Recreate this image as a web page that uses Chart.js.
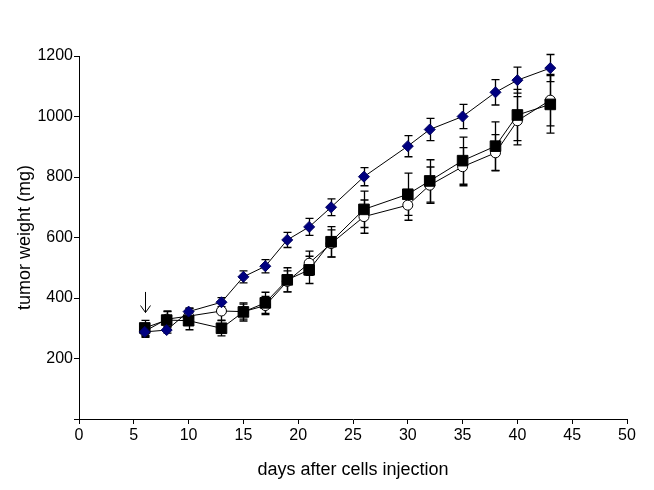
<!DOCTYPE html>
<html>
<head>
<meta charset="utf-8">
<script src="https://cdn.jsdelivr.net/npm/chart.js@4/dist/chart.umd.min.js"></script>
<style>
html,body{margin:0;padding:0;background:#fff;}
#wrap{width:654px;height:490px;}
</style>
</head>
<body>
<div id="wrap"><canvas id="c" width="654" height="490"></canvas></div>
<script>
const days = [6, 8, 10, 13, 15, 17, 19, 21, 23, 26, 30, 32, 35, 38, 40, 43];
const diamondValues = [288, 294, 355, 386, 470, 505, 592, 635, 700, 801, 902, 957, 1000, 1080, 1120, 1160];
const diamondErrors = [15, 10, 12, 15, 20, 22, 25, 28, 28, 30, 35, 37, 40, 42, 43, 45];
const squareValues = [301, 327, 325, 300, 354, 384, 460, 493, 586, 693, 743, 787, 854, 902, 1005, 1040];
const squareErrors = [25, 30, 30, 25, 30, 35, 40, 45, 50, 60, 70, 70, 78, 80, 85, 95];
const circleValues = [290, 330, 340, 357, 355, 375, 455, 515, 580, 669, 707, 773, 834, 880, 986, 1054];
const circleErrors = [20, 25, 25, 30, 25, 30, 35, 40, 45, 55, 50, 60, 63, 60, 80, 85];
const xTicks = [0, 5, 10, 15, 20, 25, 30, 35, 40, 45, 50];
const yTicks = [0, 200, 400, 600, 800, 1000, 1200];
const arrowDay = 6, arrowTop = 420, arrowBottom = 352;

const toPts = (vals) => days.map((d, i) => ({x: d, y: vals[i]}));

const errorBars = {
  id: 'errorBars',
  beforeDatasetsDraw(chart) {
    const ctx = chart.ctx, xs = chart.scales.x, ys = chart.scales.y;
    const sets = [[diamondValues, diamondErrors], [squareValues, squareErrors], [circleValues, circleErrors]];
    ctx.save();
    ctx.strokeStyle = '#000';
    ctx.lineWidth = 1.3;
    sets.forEach(([v, e]) => {
      days.forEach((d, i) => {
        const x = Math.round(xs.getPixelForValue(d)) + 0.5;
        const y1 = ys.getPixelForValue(v[i] + e[i]);
        const y2 = ys.getPixelForValue(v[i] - e[i]);
        ctx.beginPath();
        ctx.moveTo(x, y1); ctx.lineTo(x, y2);
        ctx.moveTo(x - 4, y1); ctx.lineTo(x + 4, y1);
        ctx.moveTo(x - 4, y2); ctx.lineTo(x + 4, y2);
        ctx.stroke();
      });
    });
    // arrow
    const ax = Math.round(xs.getPixelForValue(arrowDay)) + 0.5;
    const at = ys.getPixelForValue(arrowTop), ab = ys.getPixelForValue(arrowBottom);
    ctx.lineWidth = 1;
    ctx.beginPath();
    ctx.moveTo(ax, at); ctx.lineTo(ax, ab);
    ctx.moveTo(ax - 5, ab - 7); ctx.lineTo(ax, ab); ctx.lineTo(ax + 5, ab - 7);
    ctx.stroke();
    ctx.restore();
  }
};

const family = 'Arial, "Liberation Sans", sans-serif';
const tickFont = {family: family, size: 16};
const titleFont = {family: family, size: 18};

new Chart(document.getElementById('c'), {
  type: 'scatter',
  data: {
    datasets: [
      {label: 'A', data: toPts(diamondValues), showLine: true, borderColor: '#000', borderWidth: 1,
       pointStyle: 'rectRot', pointRadius: 5.5, pointBackgroundColor: '#000080', pointBorderColor: '#000060', pointBorderWidth: 1},
      {label: 'B', data: toPts(squareValues), showLine: true, borderColor: '#000', borderWidth: 1,
       pointStyle: 'rect', pointRadius: 7.5, pointBackgroundColor: '#000', pointBorderColor: '#000', pointBorderWidth: 1},
      {label: 'C', data: toPts(circleValues), showLine: true, borderColor: '#000', borderWidth: 1,
       pointStyle: 'circle', pointRadius: 5, pointBackgroundColor: '#fff', pointBorderColor: '#000', pointBorderWidth: 1}
    ]
  },
  options: {
    responsive: false,
    animation: false,
    events: [],
    layout: {padding: {left: 0, right: 27, top: 56, bottom: 0}},
    plugins: {legend: {display: false}, tooltip: {enabled: false}},
    scales: {
      x: {
        type: 'linear', min: 0, max: 50,
        afterBuildTicks: (s) => { s.ticks = xTicks.map(v => ({value: v})); },
        afterFit: (s) => { s.height = 71; },
        grid: {display: true, drawOnChartArea: false, drawTicks: true, tickLength: 5, color: '#000', lineWidth: 1},
        border: {display: true, color: '#000', width: 1},
        ticks: {color: '#000', font: tickFont, padding: 2, maxRotation: 0, autoSkip: false},
        title: {display: true, text: 'days after cells injection', color: '#000',
                font: titleFont, padding: {top: 0, bottom: 9}}
      },
      y: {
        type: 'linear', min: 0, max: 1200,
        afterBuildTicks: (s) => { s.ticks = yTicks.map(v => ({value: v})); },
        afterFit: (s) => { s.width = 79; },
        grid: {display: true, drawOnChartArea: false, drawTicks: true, tickLength: 5, color: '#000', lineWidth: 1},
        border: {display: true, color: '#000', width: 1},
        ticks: {color: '#000', font: tickFont, padding: 1, callback: (v) => v === 0 ? '' : String(v)},
        title: {display: true, text: 'tumor weight (mg)', color: '#000',
                font: titleFont, padding: {top: 14, bottom: 0}}
      }
    }
  },
  plugins: [errorBars]
});
</script>
</body>
</html>
